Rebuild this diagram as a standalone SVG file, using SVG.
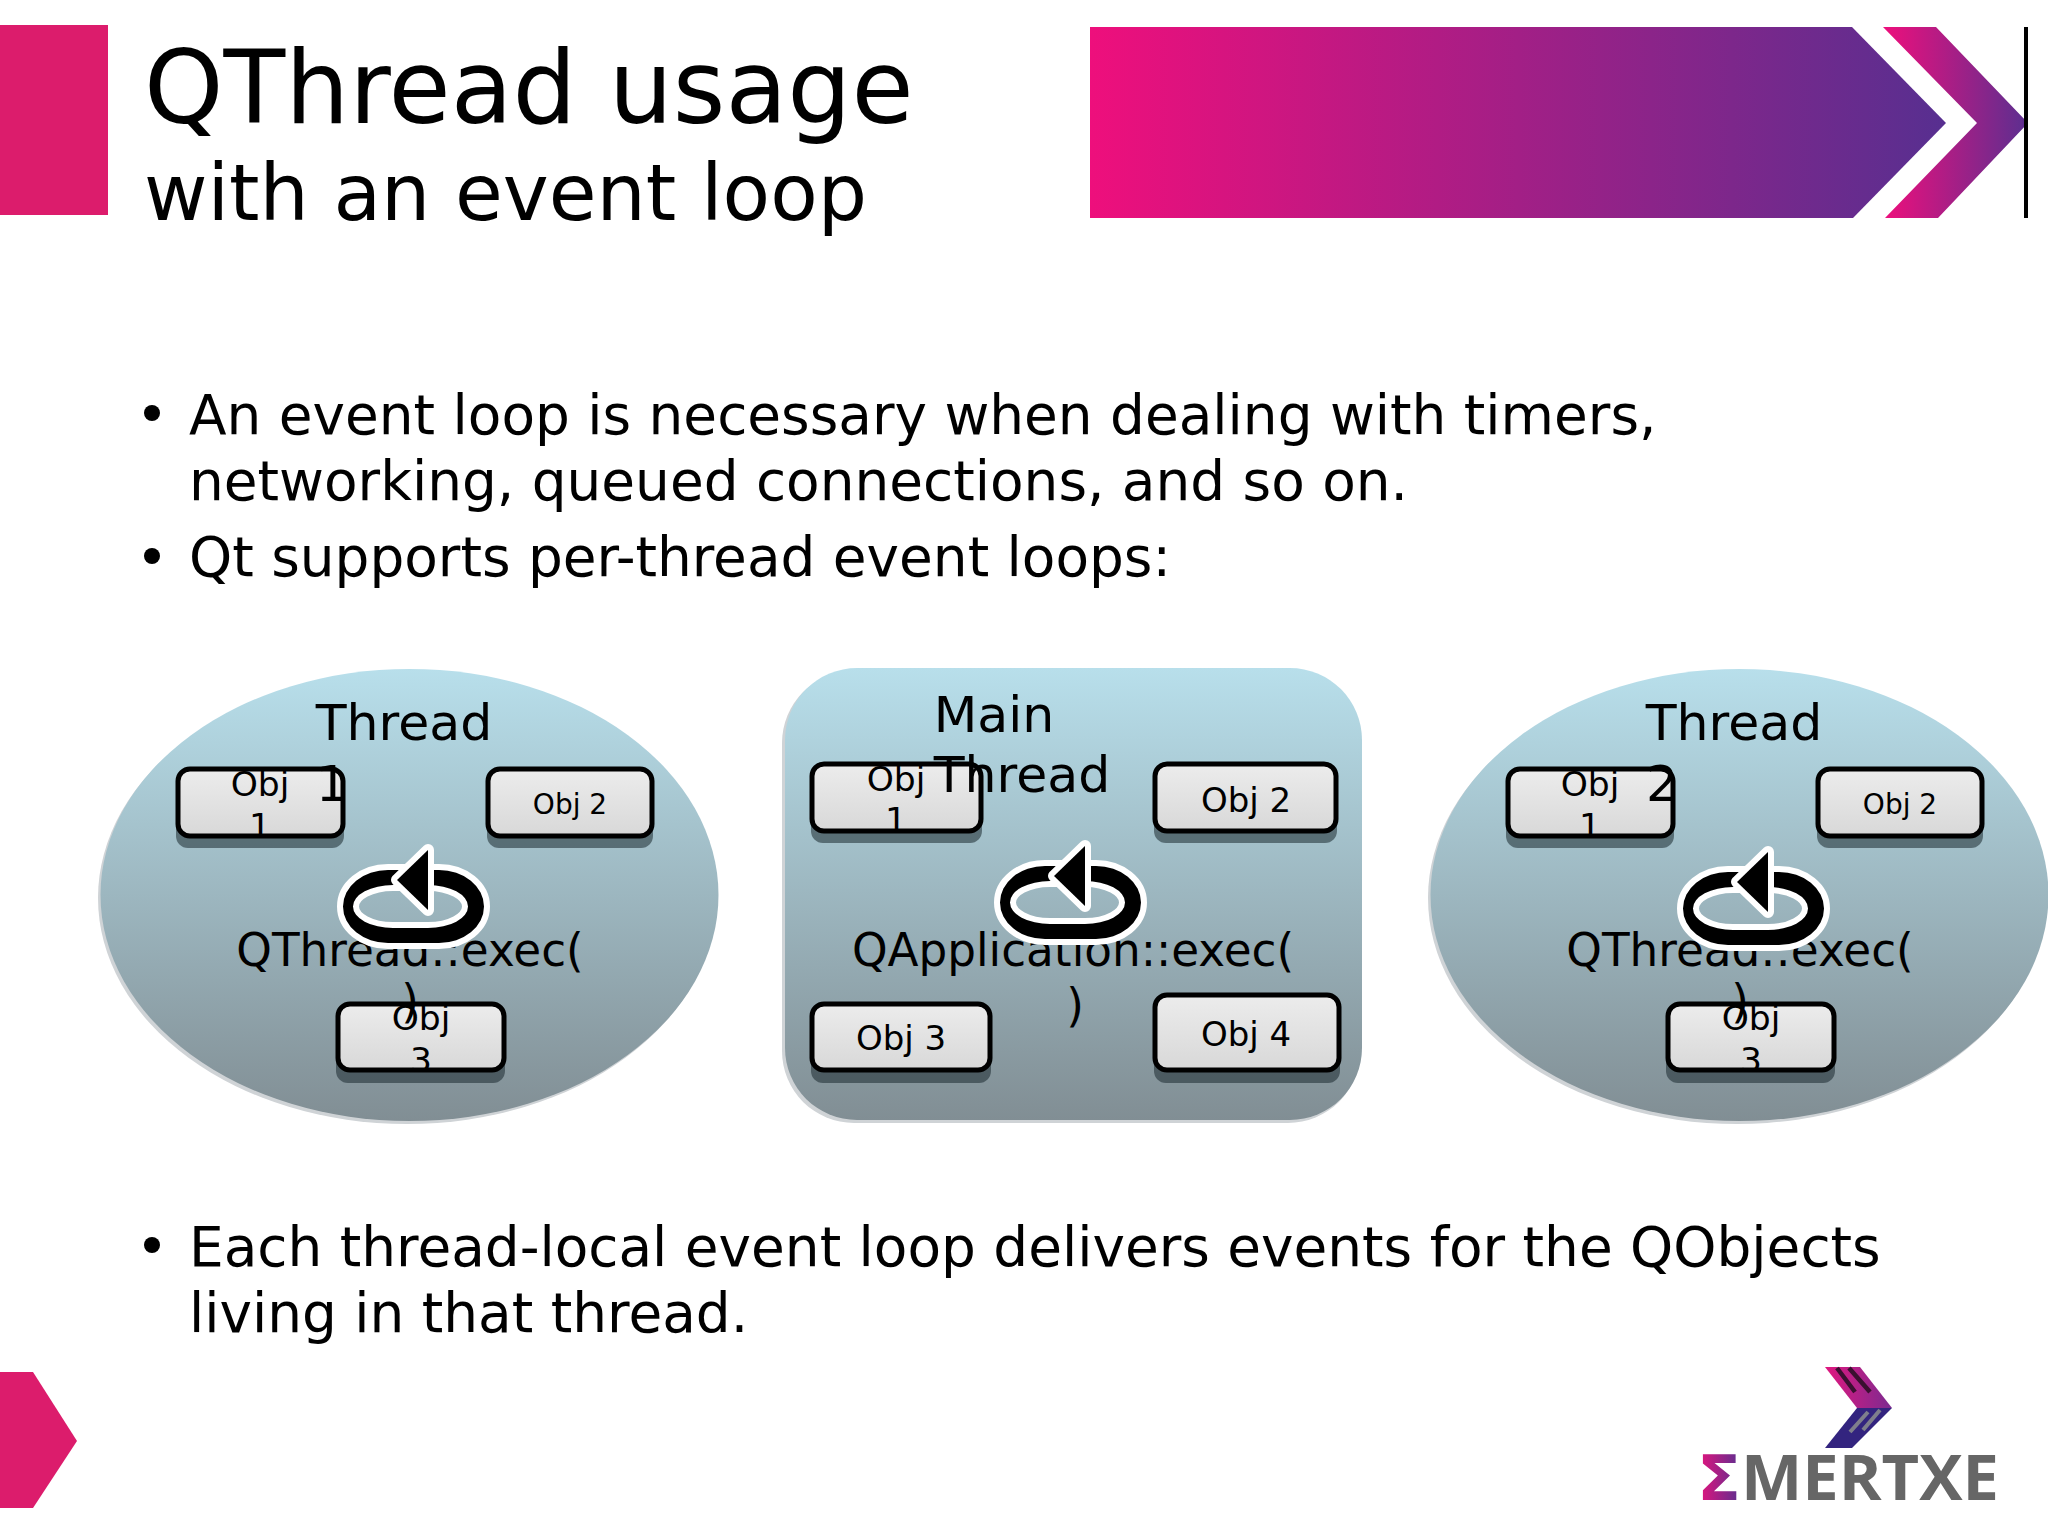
<svg xmlns="http://www.w3.org/2000/svg" xmlns:xlink="http://www.w3.org/1999/xlink" width="2048" height="1537" viewBox="0 0 2048 1537">
<style>
text{font-family:"DejaVu Sans","Liberation Sans",sans-serif;fill:#000}
.title{font-size:101px}.sub{font-size:77.7px}.body{font-size:54.9px}
.head{font-size:50.5px;text-anchor:middle}.exec{font-size:45.3px;text-anchor:middle}
.big{font-size:34px;text-anchor:middle}.small{font-size:28px;text-anchor:middle}.wrap{font-size:34.5px;text-anchor:middle}
.box{fill:url(#boxg);stroke:#000;stroke-width:5}
.shadow{fill:#1c2a30;fill-opacity:.55}
.under{fill:#cfd3d6}
.cont{fill:url(#cont)}
</style>
<defs>
<linearGradient id="banner" x1="0" x2="1" y1="0" y2="0"><stop offset="0" stop-color="#ee0f7c"/><stop offset="1" stop-color="#572f90"/></linearGradient>
<linearGradient id="chev" x1="0" x2="1" y1="0" y2="0"><stop offset="0" stop-color="#ee0f7c"/><stop offset="1" stop-color="#5b2f90"/></linearGradient>
<linearGradient id="cont" x1="0" x2="0" y1="0" y2="1"><stop offset="0" stop-color="#b8dfeb"/><stop offset="1" stop-color="#818e94"/></linearGradient>
<linearGradient id="boxg" x1="0" x2="0" y1="0" y2="1"><stop offset="0" stop-color="#ececec"/><stop offset="1" stop-color="#d8d8d8"/></linearGradient>
<linearGradient id="sig" x1="0" x2="1" y1="0" y2="0"><stop offset="0" stop-color="#e8137c"/><stop offset="1" stop-color="#5b2f90"/></linearGradient>
<linearGradient id="lg1" x1="0" x2="1" y1="0" y2="0"><stop offset="0" stop-color="#e0187f"/><stop offset="1" stop-color="#7c2a90"/></linearGradient>
<g id="loop">
<path fill-rule="evenodd" d="M388 870H439A45 36.500 0 0 1 439 943H388A45 36.500 0 0 1 388 870ZM393 885A40 21.500 0 0 0 393 928H428A40 21.500 0 0 0 428 885Z" fill="#000" stroke="#fff" stroke-width="12" paint-order="stroke"/>
<path d="M397 880L428 850V910Z" fill="#000" stroke="#fff" stroke-width="12" stroke-linejoin="round" paint-order="stroke"/>
</g>
</defs>
<rect width="2048" height="1537" fill="#fff"/>

<rect id="corner-top" x="0" y="25" width="108" height="190" fill="#dc1c6c"/>
<text class="title" x="144" y="123">QThread usage</text>
<text class="sub" x="144" y="220">with an event loop</text>
<polygon id="banner-arrow" points="1090,27 1852,27 1946,123 1853,218 1090,218" fill="url(#banner)"/>
<polygon id="banner-chevron" points="1883,27 1936,27 2028,123 1938,218 1885,218 1977,123" fill="url(#chev)"/>
<rect id="banner-line" x="2024" y="27" width="4" height="191" fill="#000"/>

<circle cx="152" cy="413" r="8" fill="#000"/>
<text class="body" x="189" y="434">An event loop is necessary when dealing with timers,</text>
<text class="body" x="189" y="500">networking, queued connections, and so on.</text>
<circle cx="152" cy="556" r="8" fill="#000"/>
<text class="body" x="189" y="576">Qt supports per-thread event loops:</text>

<g id="thread1">
<ellipse class="under" cx="407" cy="898" rx="309" ry="226"/>
<ellipse class="cont" cx="409.500" cy="895" rx="309" ry="226"/>
<rect class="shadow" x="176" y="780" width="168" height="68" rx="12"/>
<rect class="box" x="178" y="769" width="165" height="67" rx="12"/>
<rect class="shadow" x="487" y="780" width="166" height="68" rx="12"/>
<rect class="box" x="488" y="769" width="164" height="67" rx="12"/>
<rect class="shadow" x="336" y="1015" width="169" height="68" rx="12"/>
<rect class="box" x="338" y="1004" width="166" height="66" rx="12"/>
<text class="head" x="404" y="740">Thread</text>
<text class="head" x="332" y="801">1</text>
<text class="wrap" x="260" y="796">Obj</text>
<text class="wrap" x="260" y="838">1</text>
<text class="small" x="570" y="814">Obj 2</text>
<text class="exec" x="410" y="966">QThread::exec(</text>
<text class="exec" x="410" y="1017">)</text>
<text class="wrap" x="421" y="1030">Obj</text>
<text class="wrap" x="421" y="1072">3</text>
<use xlink:href="#loop" href="#loop"/>
</g>

<g id="main-thread">
<rect class="under" x="782" y="671" width="578" height="452" rx="72"/>
<rect class="cont" x="785" y="668" width="577" height="452" rx="72"/>
<rect class="shadow" x="811" y="775" width="171" height="68" rx="12"/>
<rect class="box" x="812" y="764" width="169" height="67" rx="12"/>
<rect class="shadow" x="1154" y="775" width="183" height="68" rx="12"/>
<rect class="box" x="1155" y="764" width="181" height="67" rx="12"/>
<rect class="shadow" x="811" y="1015" width="180" height="68" rx="12"/>
<rect class="box" x="812" y="1004" width="178" height="66" rx="12"/>
<rect class="shadow" x="1154" y="1006" width="186" height="77" rx="12"/>
<rect class="box" x="1155" y="995" width="184" height="75" rx="12"/>
<text class="head" x="994" y="732">Main</text>
<text class="head" x="1022" y="792">Thread</text>
<text class="wrap" x="896" y="791">Obj</text>
<text class="wrap" x="896" y="832">1</text>
<text class="big" x="1246" y="812">Obj 2</text>
<text class="big" x="901" y="1050">Obj 3</text>
<text class="big" x="1246" y="1046">Obj 4</text>
<text class="exec" x="1073" y="966">QApplication::exec(</text>
<text class="exec" x="1075" y="1021">)</text>
<use xlink:href="#loop" href="#loop" x="657" y="-4"/>
</g>

<g id="thread2">
<ellipse class="under" cx="1737" cy="898" rx="309" ry="226"/>
<ellipse class="cont" cx="1739.500" cy="895" rx="309" ry="226"/>
<rect class="shadow" x="1506" y="780" width="168" height="68" rx="12"/>
<rect class="box" x="1508" y="769" width="165" height="67" rx="12"/>
<rect class="shadow" x="1817" y="780" width="166" height="68" rx="12"/>
<rect class="box" x="1818" y="769" width="164" height="67" rx="12"/>
<rect class="shadow" x="1666" y="1015" width="169" height="68" rx="12"/>
<rect class="box" x="1668" y="1004" width="166" height="66" rx="12"/>
<text class="head" x="1734" y="740">Thread</text>
<text class="head" x="1662" y="801">2</text>
<text class="wrap" x="1590" y="796">Obj</text>
<text class="wrap" x="1590" y="838">1</text>
<text class="small" x="1900" y="814">Obj 2</text>
<text class="exec" x="1740" y="966">QThread::exec(</text>
<text class="exec" x="1740" y="1017">)</text>
<text class="wrap" x="1751" y="1030">Obj</text>
<text class="wrap" x="1751" y="1072">3</text>
<use xlink:href="#loop" href="#loop" x="1340" y="2"/>
</g>

<text class="body" x="189" y="1266">Each thread-local event loop delivers events for the QObjects</text>
<text class="body" x="189" y="1332">living in that thread.</text>
<circle cx="152" cy="1245" r="8" fill="#000"/>

<polygon id="corner-bottom" points="0,1372 33,1372 77,1441 33,1508 0,1508" fill="#dc1c6c"/>

<g id="logo">
<polygon points="1825,1367 1860,1367 1892,1408 1857,1408" fill="url(#lg1)"/>
<polygon points="1857,1408 1892,1408 1852,1448 1825,1448" fill="#33247f"/>
<path d="M1837 1368L1855 1392M1849 1368L1870 1392" stroke="#3a1030" stroke-width="4.500"/>
<path d="M1880 1410L1863 1430M1868 1412L1850 1432" stroke="#7f7f8c" stroke-width="4"/>
<text x="1697" y="1500" font-size="63" font-weight="700" style="font-family:'DejaVu Sans',sans-serif;fill:url(#sig)" textLength="44" lengthAdjust="spacingAndGlyphs">Σ</text>
<text x="1741" y="1500" font-size="63" font-weight="700" style="font-family:'Open Sans','DejaVu Sans',sans-serif;fill:#666" textLength="258" lengthAdjust="spacingAndGlyphs">MERTXE</text>
</g>
</svg>
